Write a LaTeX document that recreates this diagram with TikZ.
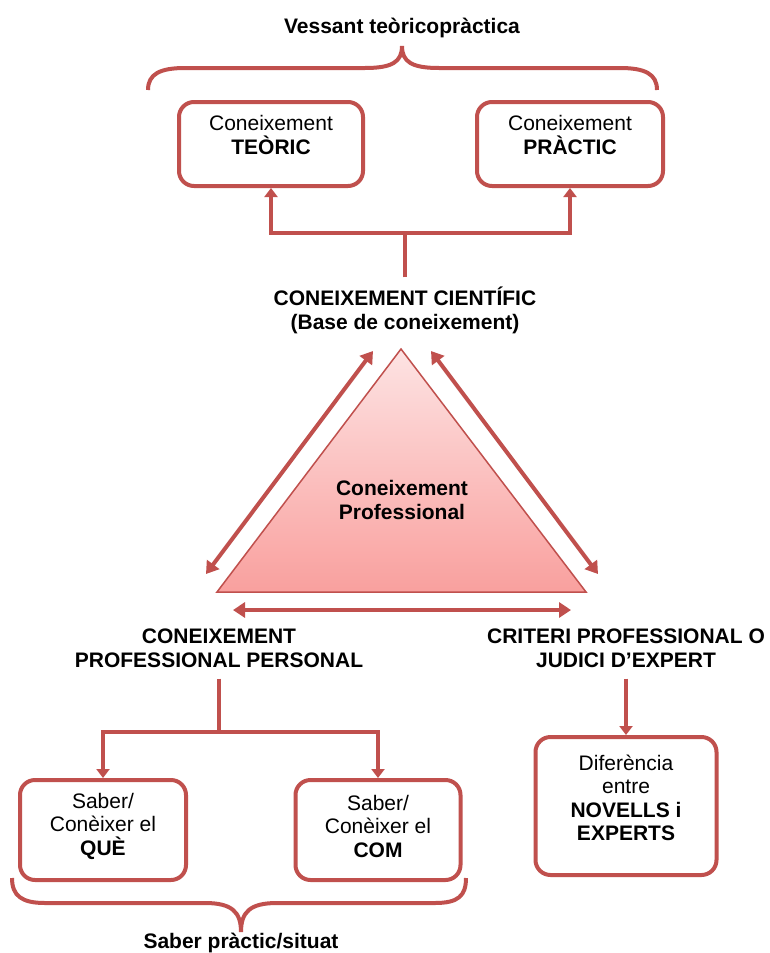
\documentclass[tikz,border=0pt]{standalone}
\usepackage{fontspec}
\setmainfont{Liberation Sans}
\usetikzlibrary{arrows.meta,calc}
\definecolor{accred}{HTML}{C0504D}
\definecolor{tritop}{HTML}{FDE3E3}
\definecolor{tribot}{HTML}{F9A09E}
\begin{document}
\begin{tikzpicture}[x=1pt,y=-1pt,
  line/.style={draw=accred,line width=4pt},
  arr/.style={line,-{Triangle[width=13pt,length=9pt]}},
  darr/.style={line,{Triangle[width=15pt,length=12pt]}-{Triangle[width=15pt,length=12pt]}},
  box/.style={draw=accred,line width=4pt,rounded corners=15pt,fill=white},
  txt/.style={font=\fontsize{21}{23.5}\selectfont,align=center,inner sep=0pt},
  head/.style={txt,font=\fontsize{21}{24}\selectfont\bfseries},
]
\useasboundingbox[fill=white] (0,0) rectangle (769,953);

% top title and brace
\node[head] (vess) at (402,28) {Vessant teòricopràctica};
\draw[line] (148,90) .. controls (148,74) and (160,68) .. (185,68) -- (365,68)
  .. controls (392,68) and (402,62) .. (402,46)
  .. controls (402,62) and (412,68) .. (439,68) -- (620,68)
  .. controls (645,68) and (657,74) .. (657,90);

% top boxes
\node[box,minimum width=184pt,minimum height=84pt] (teo) at (271,144) {};
\node[txt] (teoT) at (271,135) {Coneixement\\\textbf{TEÒRIC}};
\node[box,minimum width=186pt,minimum height=84pt] (pra) at (570,144) {};
\node[txt] (praT) at (570,135) {Coneixement\\\textbf{PRÀCTIC}};

% scientific knowledge
\node[head] (cc) at (405,310) {CONEIXEMENT CIENTÍFIC\\(Base de coneixement)};
\coordinate (j1) at (405,233);
\draw[line] ([yshift=9pt]cc.north) -- (j1);
\draw[arr] (j1) -| (teo.south);
\draw[arr] (j1) -| (pra.south);

% triangle
\path[draw=accred,line width=1.5pt,top color=tritop,bottom color=tribot]
  (401,349) -- (586,592) -- (217,592) -- cycle;
\node[head] (cp) at (402,500) {Coneixement\\Professional};

\coordinate (a1) at (373,351);
\coordinate (a2) at (206,574);
\coordinate (b1) at (431,351);
\coordinate (b2) at (598,574);
\coordinate (c1) at (233,610);
\coordinate (c2) at (571,610);
\draw[darr] (a1) -- (a2);
\draw[darr] (b1) -- (b2);
\draw[darr] (c1) -- (c2);

% lower headings
\node[head] (cpp) at (219,648) {CONEIXEMENT\\PROFESSIONAL PERSONAL};
\node[head] (crit) at (626,648) {CRITERI PROFESSIONAL O\\JUDICI D'EXPERT};

% lower boxes
\node[box,minimum width=166pt,minimum height=100pt] (que) at (103,830) {};
\node[txt] (queT) at (103,826) {Saber/\\Conèixer el\\\textbf{QUÈ}};
\node[box,minimum width=165pt,minimum height=100pt] (com) at (378,830) {};
\node[txt] (comT) at (378,826) {Saber/\\Conèixer el\\\textbf{COM}};
\node[box,minimum width=181pt,minimum height=138pt] (dif) at (626,806) {};
\node[txt] (difT) at (626,798) {Diferència\\entre\\\textbf{NOVELLS i}\\\textbf{EXPERTS}};

\coordinate (j2) at (219,732);
\draw[line] ([yshift=-11pt]cpp.south) -- (j2);
\draw[arr] (j2) -| (que.north);
\draw[arr] (j2) -| (com.north);
\draw[arr] ([yshift=-11pt]crit.south) -- (dif.north);

% bottom brace
\draw[line] (12,878) .. controls (12,896) and (22,903) .. (45,903) -- (205,903)
  .. controls (232,903) and (241,912) .. (241,932)
  .. controls (241,912) and (250,903) .. (277,903) -- (435,903)
  .. controls (458,903) and (466,896) .. (466,878);
\node[head] (sab) at (241,943) {Saber pràctic/situat};
\end{tikzpicture}
\end{document}
